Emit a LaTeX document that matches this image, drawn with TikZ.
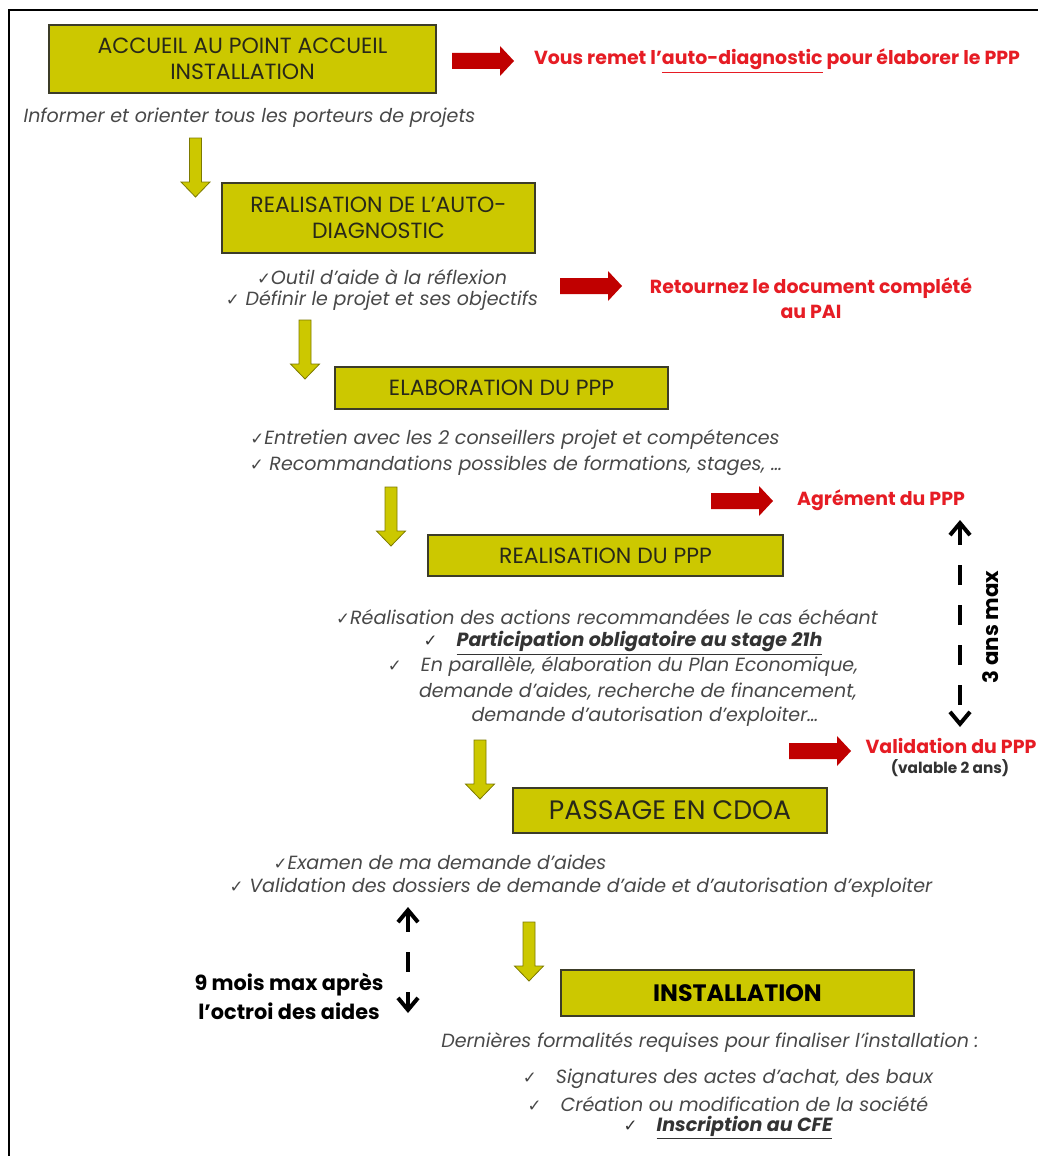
\documentclass[tikz,border=0pt]{standalone}
\usepackage{fontspec}
\setmainfont{Poppins}
\newfontfamily\symfont{DejaVu Sans}
\usetikzlibrary{arrows.meta}
\definecolor{yel}{RGB}{204,200,0}
\definecolor{yeld}{RGB}{125,122,0}
\definecolor{boxline}{RGB}{60,60,40}
\definecolor{boxtxt}{RGB}{40,40,25}
\definecolor{redarr}{RGB}{192,0,0}
\definecolor{redtxt}{RGB}{230,28,36}
\definecolor{gtxt}{RGB}{72,72,72}
\newcommand\ck{{\symfont\fontsize{12.5}{14}\selectfont ✓}}
\newcommand\yarr[3]{\path[yarrow] ({#1-6},{#2}) -- ({#1+6},{#2}) -- ({#1+6},{#2+44}) -- ({#1+14.5},{#2+44}) -- ({#1},{#2+59}) -- ({#1-14.5},{#2+44}) -- ({#1-6},{#2+44}) -- cycle; \coordinate (#3) at ({#1},{#2});}
\newcommand\rarr[3]{\path[rarrow] ({#1},{#2-8}) -- ({#1+48},{#2-8}) -- ({#1+48},{#2-15}) -- ({#1+62},{#2}) -- ({#1+48},{#2+15}) -- ({#1+48},{#2+8}) -- ({#1},{#2+8}) -- cycle; \coordinate (#3) at ({#1},{#2});}
\begin{document}
\begin{tikzpicture}[x=0.75pt,y=-0.75pt,
  ybox/.style={draw=boxline, fill=yel, line width=1.1pt, text=boxtxt, align=center, inner sep=0pt, font=\fontsize{16.5}{19.5}\selectfont},
  note/.style={text=gtxt, inner sep=0pt, font=\fontsize{14.3}{17}\selectfont\itshape},
  bnotei/.style={note, text=black!80, font=\fontsize{14.3}{17}\selectfont\bfseries\itshape},
  rnote/.style={text=redtxt, inner sep=0pt, align=center, font=\fontsize{14.2}{18.75}\selectfont\bfseries},
  bnote/.style={text=black, inner sep=0pt, align=center, font=\fontsize{15.6}{21.75}\selectfont\bfseries},
  yarrow/.style={fill=yel, draw=yeld, line width=0.6pt},
  rarrow/.style={fill=redarr},
  dline/.style={line width=3pt, dash pattern=on 15pt off 15pt, {Straight Barb[length=9pt,width=15pt]}-{Straight Barb[length=9pt,width=15pt]}}
]
\useasboundingbox[fill=white] (0,0) rectangle (1038,1156);
\draw[line width=1.6pt] (9,1156) -- (9,10) -- (1038,10);

% boxes
\node[ybox, minimum width=290.25pt, minimum height=51pt] (b1) at (242.5,59) {ACCUEIL AU POINT ACCUEIL\\INSTALLATION};
\node[ybox, minimum width=234.75pt, minimum height=52.5pt] (b2) at (378.5,218) {REALISATION DE L'AUTO-\\DIAGNOSTIC};
\node[ybox, minimum width=249.75pt, minimum height=31.5pt] (b3) at (501.5,388) {ELABORATION DU PPP};
\node[ybox, minimum width=266.25pt, minimum height=30.75pt] (b4) at (605.5,555.5) {REALISATION DU PPP};
\node[ybox, minimum width=235.5pt, minimum height=33.75pt, font=\fontsize{20}{22}\selectfont] (b5) at (670,810.5) {PASSAGE EN CDOA};
\node[ybox, minimum width=264.75pt, minimum height=34.5pt, font=\fontsize{17.8}{20}\selectfont\bfseries, text=black] (b6) at (737.5,993) {INSTALLATION};

% yellow down arrows
\yarr{195.5}{138}{y1}
\yarr{305}{320}{y2}
\yarr{391}{487}{y3}
\yarr{480}{740}{y4}
\yarr{529}{922}{y5}

% red arrows
\rarr{452}{61}{r1}
\rarr{560}{286}{r2}
\rarr{711}{501}{r3}
\rarr{789}{751}{r4}

% texts
\node[note] (t1) at (249.5,118) {Informer et orienter tous les porteurs de projets};
\node[rnote] (rt1) at (777,61) {Vous remet l'\underline{auto-diagnostic} pour élaborer le PPP};

\node[note] (t2a) at (382,277) {\ck Outil d'aide à la réflexion};
\node[note] (t2b) at (382,301) {\ck\ Définir le projet et ses objectifs};
\node[rnote] (rt2) at (811,298) {Retournez le document complété\\au PAI};

\node[note] (t3a) at (515,440) {\ck Entretien avec les 2 conseillers projet et compétences};
\node[note] (t3b) at (516,466) {\ck\ Recommandations possibles de formations, stages, …};
\node[rnote] (rt3) at (881,500) {Agrément du PPP};

\node[note] (t4a) at (607,617) {\ck Réalisation des actions recommandées le cas échéant};
\node[bnotei] (t4b) at (623,643) {\ck\quad\underline{Participation obligatoire au stage 21h}};
\node[note] (t4c) at (623,667) {\ck\quad En parallèle, élaboration du Plan Economique,};
\node[note] (t4d) at (638,692) {demande d'aides, recherche de financement,};
\node[note] (t4e) at (645,717) {demande d'autorisation d'exploiter…};

\node[rnote] (rt4) at (951,746) {Validation du PPP};
\node[bnote, font=\fontsize{11.5}{13}\selectfont\bfseries, text=black!80] (rt4b) at (950,768) {(valable 2 ans)};

\coordinate (d1a) at (960,520);
\coordinate (d1b) at (960,727);
\draw[dline] (d1a) -- (d1b);
\node[bnote, rotate=90, font=\fontsize{16}{18}\selectfont\bfseries] (ans) at (991,627) {3 ans max};

\node[note] (t5a) at (440,862) {\ck Examen de ma demande d'aides};
\node[note] (t5b) at (581,888) {\ck\ Validation des dossiers de demande d'aide et d'autorisation d'exploiter};

\coordinate (d2a) at (408,907);
\coordinate (d2b) at (408,1013);
\draw[dline] (d2a) -- (d2b);
\node[bnote] (mois) at (289,996.5) {9 mois max après\\l'octroi des aides};

\node[note] (t6) at (710,1043) {Dernières formalités requises pour finaliser l'installation :};
\node[note] (t6a) at (728,1079) {\ck\quad Signatures des actes d'achat, des baux};
\node[note] (t6b) at (728,1104) {\ck\quad Création ou modification de la société};
\node[bnotei] (t6c) at (728,1128) {\ck\quad\underline{Inscription au CFE}};
\end{tikzpicture}
\end{document}
